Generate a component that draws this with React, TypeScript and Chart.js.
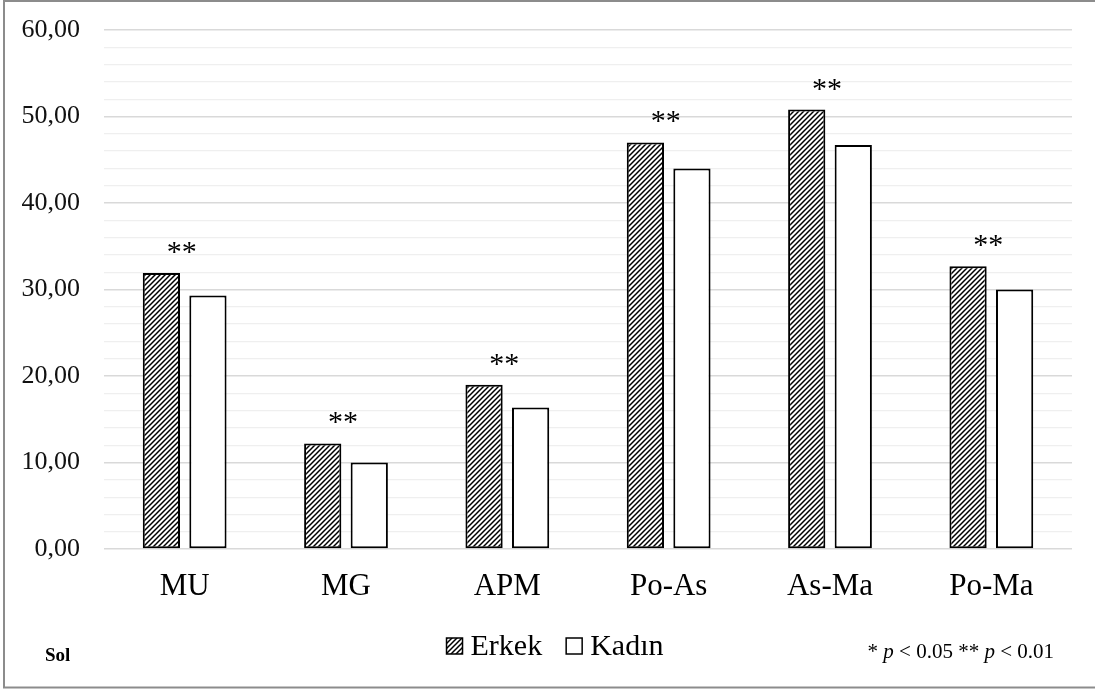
import React, { useEffect, useRef } from "react";
import { Chart, registerables } from "chart.js";

Chart.register(...registerables);

// ---- data ----
const categories = ["MU", "MG", "APM", "Po-As", "As-Ma", "Po-Ma"];
const seriesNames = ["Erkek", "Kadın"];
const erkekValues = [31.9, 12.2, 19.0, 47.0, 50.8, 32.7];
const kadinValues = [29.3, 10.0, 16.35, 44.0, 46.7, 30.0];
const significance = ["**", "**", "**", "**", "**", "**"];
const yMin = 0;
const yMax = 60;
const yMajorStep = 10;
const yMinorStep = 2;
const panelLabel = "Sol";
// [text, italic]
const noteParts: [string, boolean][] = [
  ["* ", false],
  ["p", true],
  [" < 0.05 ** ", false],
  ["p", true],
  [" < 0.01", false],
];

const SERIF = '"Liberation Serif", "Times New Roman", serif';

function makeHatch(ctx: CanvasRenderingContext2D): CanvasPattern | string {
  const s = 5;
  const c = document.createElement("canvas");
  c.width = s;
  c.height = s;
  const g = c.getContext("2d");
  if (!g) return "#888";
  g.fillStyle = "#ffffff";
  g.fillRect(0, 0, s, s);
  g.strokeStyle = "#000000";
  g.lineWidth = 1.5;
  g.beginPath();
  g.moveTo(0, s);
  g.lineTo(s, 0);
  g.moveTo(-1, 1);
  g.lineTo(1, -1);
  g.moveTo(s - 1, s + 1);
  g.lineTo(s + 1, s - 1);
  g.stroke();
  return ctx.createPattern(c, "repeat") || "#888";
}

export default function App() {
  const canvasRef = useRef<HTMLCanvasElement | null>(null);

  useEffect(() => {
    const canvas = canvasRef.current;
    if (!canvas) return;
    const ctx0 = canvas.getContext("2d");
    if (!ctx0) return;
    const hatch = makeHatch(ctx0);

    const decorPlugin = {
      id: "decor",
      afterDatasetsDraw(chart: any) {
        const { ctx } = chart;
        const xs = chart.scales.x;
        const ys = chart.scales.y;
        ctx.save();
        // significance marks
        ctx.fillStyle = "#000";
        ctx.font = `30px ${SERIF}`;
        ctx.textAlign = "center";
        ctx.textBaseline = "alphabetic";
        categories.forEach((_, i) => {
          const top = Math.max(erkekValues[i], kadinValues[i]);
          const x = xs.getPixelForValue(i) - 3;
          const y = ys.getPixelForValue(top) - 12;
          ctx.fillText(significance[i], x, y);
        });
        ctx.restore();
      },
      afterDraw(chart: any) {
        const { ctx } = chart;
        ctx.save();
        // outer border
        ctx.strokeStyle = "#8c8c8c";
        ctx.lineWidth = 2;
        ctx.strokeRect(4, 1, 1100, 686.5);

        // legend
        const legendFont = `30px ${SERIF}`;
        ctx.font = legendFont;
        const box = 16;
        const gapBoxText = 8;
        const gapItems = 24;
        const w0 = ctx.measureText(seriesNames[0]).width;
        const w1 = ctx.measureText(seriesNames[1]).width;
        const total = box + gapBoxText + w0 + gapItems + box + gapBoxText + w1;
        let lx = 555 - total / 2;
        const boxTop = 638;
        const baseline = 655;
        const fills = [hatch, "#ffffff"];
        [0, 1].forEach((k) => {
          ctx.fillStyle = fills[k];
          ctx.fillRect(lx, boxTop, box, box);
          ctx.strokeStyle = "#000";
          ctx.lineWidth = 1.5;
          ctx.strokeRect(lx, boxTop, box, box);
          lx += box + gapBoxText;
          ctx.fillStyle = "#000";
          ctx.textAlign = "left";
          ctx.textBaseline = "alphabetic";
          ctx.fillText(seriesNames[k], lx, baseline);
          lx += (k === 0 ? w0 : w1) + gapItems;
        });

        // panel label
        ctx.font = `bold 19px ${SERIF}`;
        ctx.fillStyle = "#000";
        ctx.textAlign = "left";
        ctx.fillText(panelLabel, 45, 661);

        // p-value note (right-aligned)
        const normal = `21px ${SERIF}`;
        const italic = `italic 21px ${SERIF}`;
        let width = 0;
        noteParts.forEach(([t, it]) => {
          ctx.font = it ? italic : normal;
          width += ctx.measureText(t).width;
        });
        let nx = 1054 - width;
        noteParts.forEach(([t, it]) => {
          ctx.font = it ? italic : normal;
          ctx.fillText(t, nx, 658);
          nx += ctx.measureText(t).width;
        });
        ctx.restore();
      },
    };

    const chart = new Chart(canvas, {
      type: "bar",
      data: {
        labels: categories,
        datasets: [
          {
            label: seriesNames[0],
            data: erkekValues,
            backgroundColor: hatch as any,
            borderColor: "#000000",
            borderWidth: 2,
            borderSkipped: false,
            categoryPercentage: 0.577,
            barPercentage: 0.8,
          },
          {
            label: seriesNames[1],
            data: kadinValues,
            backgroundColor: "#ffffff",
            borderColor: "#000000",
            borderWidth: 2,
            borderSkipped: false,
            categoryPercentage: 0.577,
            barPercentage: 0.8,
          },
        ],
      },
      options: {
        responsive: false,
        maintainAspectRatio: false,
        animation: false,
        devicePixelRatio: 1,
        layout: { padding: { left: 0, right: 23, top: 30, bottom: 0 } },
        plugins: {
          legend: { display: false },
          tooltip: { enabled: false },
          title: { display: false },
        },
        scales: {
          x: {
            type: "category",
            grid: { display: false },
            border: { display: false },
            ticks: {
              color: "#000",
              font: { family: SERIF, size: 31 },
              padding: 11,
              maxRotation: 0,
              autoSkip: false,
            },
            afterFit: (scale: any) => {
              scale.height = 144;
              scale.paddingLeft = 0;
              scale.paddingRight = 0;
            },
          },
          y: {
            min: yMin,
            max: yMax,
            grid: {
              drawTicks: false,
              color: (c: any) =>
                c.tick && c.tick.value % yMajorStep === 0 ? "#d9d9d9" : "#efefef",
              lineWidth: (c: any) =>
                c.tick && c.tick.value % yMajorStep === 0 ? 1.5 : 1.2,
            },
            border: { display: false },
            ticks: {
              stepSize: yMinorStep,
              autoSkip: false,
              color: "#111",
              font: { family: SERIF, size: 26 },
              padding: 24,
              callback: (v: any) =>
                Number(v) % yMajorStep === 0
                  ? Number(v).toFixed(2).replace(".", ",")
                  : "",
            },
            afterFit: (scale: any) => {
              scale.width = 104;
              scale.paddingTop = 0;
              scale.paddingBottom = 0;
            },
          },
        },
      },
      plugins: [decorPlugin],
    });

    return () => {
      chart.destroy();
    };
  }, []);

  return (
    <div
      style={{
        position: "absolute",
        left: 0,
        top: 0,
        width: 1095,
        height: 693,
        background: "#ffffff",
      }}
    >
      <canvas ref={canvasRef} width={1095} height={693} />
    </div>
  );
}
